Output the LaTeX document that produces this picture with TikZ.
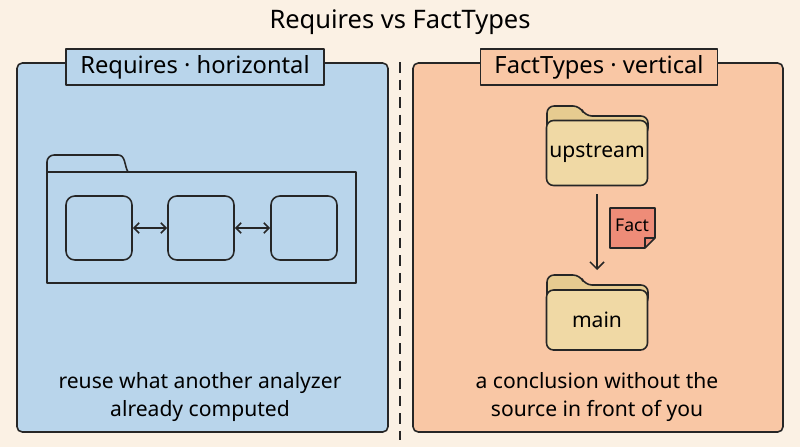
\documentclass[tikz,border=0pt]{standalone}
\usepackage{fontspec}
\setmainfont{Noto Sans}
\usepackage{tikz}
\usetikzlibrary{arrows.meta,positioning,calc}
\definecolor{paper}{HTML}{FBF1E4}
\definecolor{bluepanel}{HTML}{B9D5EB}
\definecolor{orangepanel}{HTML}{F9C7A5}
\definecolor{folderfill}{HTML}{F0D9A5}
\definecolor{folderdark}{HTML}{E6CB90}
\definecolor{factfill}{HTML}{EE8C78}
\tikzset{
  ink/.style={draw=black!85,line width=0.9pt,line join=round},
  panel/.style={ink,rounded corners=3pt},
  tag/.style={ink,minimum height=0.6cm,font=\fontsize{13.5}{15}\selectfont,inner xsep=8pt},
  caption/.style={align=center,font=\fontsize{12}{15.5}\selectfont},
  slot/.style={ink,rounded corners=5pt,minimum width=1.32cm,minimum height=1.28cm},
  link/.style={ink,{Straight Barb[length=3pt]}-{Straight Barb[length=3pt]}},
  folder/.style={ink,fill=folderfill,rounded corners=4pt,inner sep=0pt,minimum width=2.02cm,font=\fontsize{12}{14}\selectfont},
}
\begin{document}
\begin{tikzpicture}[x=0.02cm,y=-0.02cm]
        \fill[paper] (0,0) rectangle (800,447);
        \node (title) at (400,22) {\fontsize{14.5}{16}\selectfont Requires vs FactTypes};
        % left panel
        \draw[panel,fill=bluepanel] (17,63) rectangle (388,432);
        \node[tag,fill=bluepanel] (lefttag) at (195,67) {Requires · horizontal};
        \draw[ink] (47,172) -- (47,162) to[out=90,in=180] (54,155) -- (118,155) to[out=0,in=120] (128,172);
        \draw[ink] (47,172) rectangle (356,283);
        \node[slot] (slotA) at (99,228) {};
        \node[slot] (slotB) at (201,228) {};
        \node[slot] (slotC) at (304,228) {};
        \draw[link] (slotA) -- (slotB);
        \draw[link] (slotB) -- (slotC);
        \node[caption] (leftcap) at (200,397) {reuse what another analyzer\\already computed};
        % divider
        \draw[ink,dashed,dash pattern=on 6pt off 4pt] (400,62) -- (400,440);
        % right panel
        \draw[panel,fill=orangepanel] (413,63) rectangle (783,432);
        \node[tag,fill=orangepanel] (righttag) at (599,67) {FactTypes · vertical};
        \draw[ink,fill=folderdark,rounded corners=4pt] (547,135) -- (547,106) -- (580,106) -- (585,116) -- (648,116) -- (648,135) -- cycle;
        \node[folder,minimum height=1.3cm] (upstream) at (597,153) {upstream};
        \draw[ink,fill=folderdark,rounded corners=4pt] (547,305) -- (547,275) -- (580,275) -- (585,285) -- (648,285) -- (648,305) -- cycle;
        \node[folder,minimum height=1.2cm] (main) at (597,320) {main};
        \draw[ink,-{Straight Barb[length=4pt]}] ($(upstream.south)+(0,8)$) -- (597,270);
        \draw[ink,fill=factfill] (610,208) -- (655,208) -- (655,238) -- (645,248) -- (610,248) -- cycle;
        \draw[ink] (655,238) -- (645,238) -- (645,248);
        \node[font=\fontsize{10}{12}\selectfont] (fact) at (632,225) {Fact};
        \node[caption] (rightcap) at (597,397) {a conclusion without the\\source in front of you};
\end{tikzpicture}
\end{document}
